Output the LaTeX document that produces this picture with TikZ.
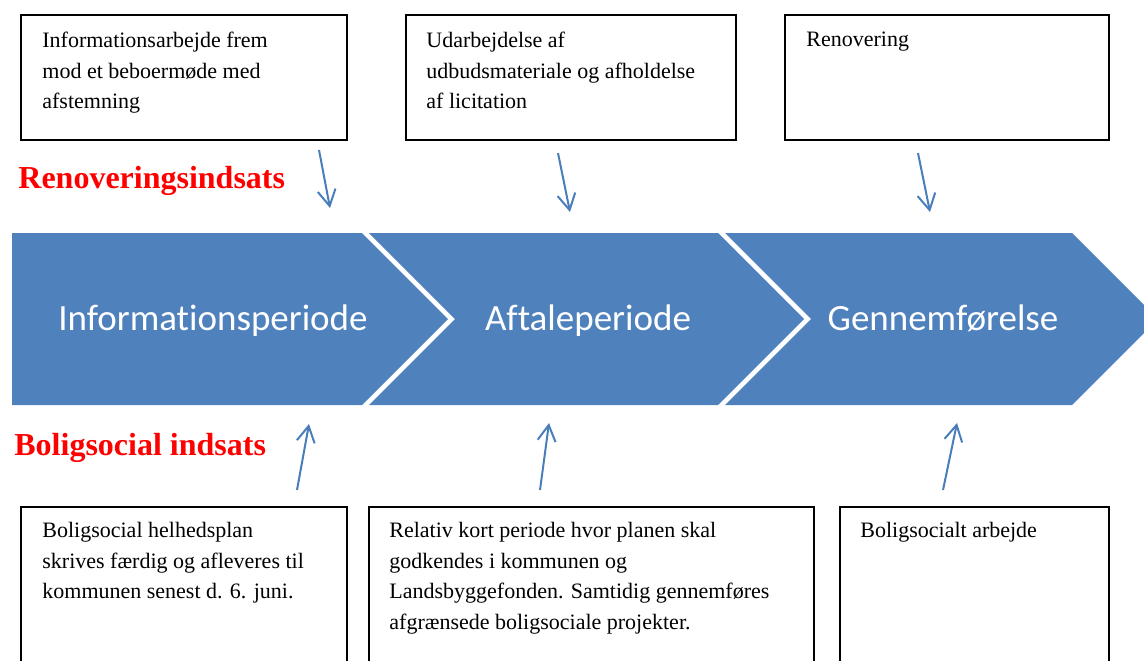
\documentclass[tikz,border=0pt]{standalone}
\usepackage{fontspec}
\setmainfont{Liberation Serif}
\newfontfamily\calibri[Ligatures=NoCommon]{Carlito}
\usetikzlibrary{arrows.meta}
\definecolor{chevblue}{HTML}{4F81BD}
\definecolor{pilblue}{HTML}{4A7EBB}

\begin{document}
\begin{tikzpicture}[x=0.5pt,y=-0.5pt,
  boks/.style={draw, line width=0.9pt, anchor=north west, inner sep=0},
  tekst/.style={anchor=north west, align=left, inner sep=0, font=\fontsize{11}{15.25}\selectfont},
  fase/.style={text=white, anchor=base, inner sep=0, font=\calibri\fontsize{18.5}{22}\selectfont},
  indsats/.style={red, anchor=base west, inner sep=0, font=\bfseries\fontsize{16}{19}\selectfont},
  pil/.style={-{Straight Barb[length=8pt,width=9pt]}, line width=1pt, pilblue}]
  \path[use as bounding box, clip] (0,0) rectangle (1144,660);

  % chevrons
  \fill[chevblue] (12,233) -- (362,233) -- (448,319) -- (362,405) -- (12,405) -- cycle;
  \fill[chevblue] (369,233) -- (718,233) -- (804,319) -- (718,405) -- (369,405) -- (455,319) -- cycle;
  \fill[chevblue] (725,233) -- (1072,233) -- (1158,319) -- (1072,405) -- (725,405) -- (811,319) -- cycle;
  \node[fase] (info) at (213,330) {Informationsperiode};
  \node[fase] (aftale) at (588,330) {Aftaleperiode};
  \node[fase] (gennem) at (943,330) {Gennemførelse};

  \node[indsats] (renov) at (18,188) {Renoveringsindsats};
  \node[indsats] (bolig) at (14,455) {Boligsocial indsats};

  % top boxes
  \node[boks, minimum width=163pt, minimum height=62.5pt] (top1) at (20,14) {};
  \node[boks, minimum width=165pt, minimum height=62.5pt] (top2) at (405,14) {};
  \node[boks, minimum width=162pt, minimum height=62.5pt] (top3) at (784,14) {};
  \node[tekst] (top1txt) at ([shift={(22,18)}]top1.north west) {Informationsarbejde frem\\mod et beboermøde med\\afstemning};
  \node[tekst] (top2txt) at ([shift={(21,18)}]top2.north west) {Udarbejdelse af\\udbudsmateriale og afholdelse\\af licitation};
  \node[tekst] (top3txt) at ([shift={(22,18)}]top3.north west) {Renovering};

  % bottom boxes
  \node[boks, minimum width=163pt, minimum height=90pt] (bund1) at (20,506) {};
  \node[boks, minimum width=222.5pt, minimum height=90pt] (bund2) at (368,506) {};
  \node[boks, minimum width=134.5pt, minimum height=90pt] (bund3) at (839,506) {};
  \node[tekst] (bund1txt) at ([shift={(22,16)}]bund1.north west) {Boligsocial helhedsplan\\skrives færdig og afleveres til\\kommunen senest d. 6. juni.};
  \node[tekst] (bund2txt) at ([shift={(21,16)}]bund2.north west) {Relativ kort periode hvor planen skal\\godkendes i kommunen og\\Landsbyggefonden. Samtidig gennemføres\\afgrænsede boligsociale projekter.};
  \node[tekst] (bund3txt) at ([shift={(21,16)}]bund3.north west) {Boligsocialt arbejde};

  % arrows
  \coordinate (p1a) at (319,150); \coordinate (p1b) at (330,208);
  \coordinate (p2a) at (558,153); \coordinate (p2b) at (570,212);
  \coordinate (p3a) at (918,153); \coordinate (p3b) at (930,212);
  \coordinate (q1a) at (297,490); \coordinate (q1b) at (309,424);
  \coordinate (q2a) at (540,490); \coordinate (q2b) at (549,423);
  \coordinate (q3a) at (943,490); \coordinate (q3b) at (957,423);
  \draw[pil] (p1a) -- (p1b);
  \draw[pil] (p2a) -- (p2b);
  \draw[pil] (p3a) -- (p3b);
  \draw[pil] (q1a) -- (q1b);
  \draw[pil] (q2a) -- (q2b);
  \draw[pil] (q3a) -- (q3b);
\end{tikzpicture}
\end{document}
